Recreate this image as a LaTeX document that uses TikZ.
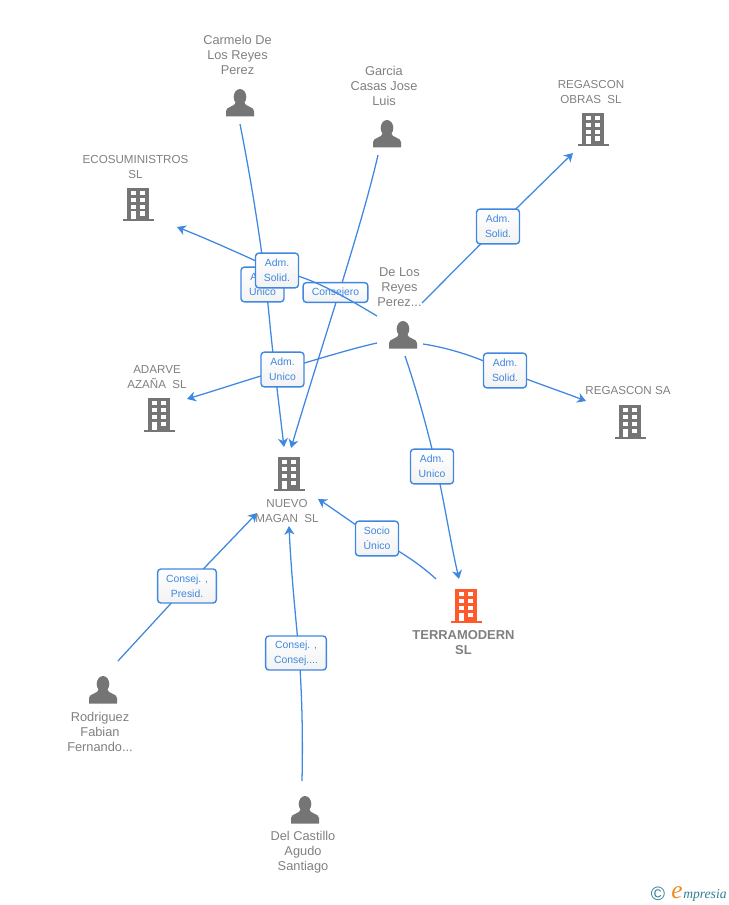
\documentclass[tikz,border=0pt]{standalone}
\usepackage{fontspec}
\setmainfont{Liberation Sans}
\newfontfamily\logoserif{Liberation Serif}
\usetikzlibrary{arrows.meta,backgrounds}
\definecolor{linkblue}{HTML}{3F87E0}
\definecolor{labelgrey}{HTML}{808080}
\definecolor{icongrey}{HTML}{757575}
\definecolor{iconorange}{HTML}{FF5A2B}
\definecolor{logoteal}{HTML}{2F7F96}
\definecolor{logoorange}{HTML}{F08A24}
\tikzset{
  x=0.75pt,y=-0.75pt,
  linkline/.style={draw=linkblue,line width=0.95pt},
  arrowlink/.style={linkline,-{Stealth[length=6.5pt,width=7.5pt,inset=2pt]}},
  tagbox/.style={draw=linkblue,line width=1.05pt,rounded corners=2.4pt,top color=white,bottom color=white!95!black,
    text=linkblue,inner sep=0pt,align=center,font=\fontsize{7.8}{11.25}\selectfont},
  whoname/.style={text=labelgrey,inner sep=0pt,align=center,font=\fontsize{9.6}{11.25}\selectfont},
  capsname/.style={whoname,font=\fontsize{8.7}{11.25}\selectfont},
  boldname/.style={whoname,font=\fontsize{9.7}{11.25}\selectfont\bfseries},
  anchorbox/.style={inner sep=0pt,minimum width=24pt,minimum height=24pt},
  pics/building/.style={code={
    \fill[#1] (-15.5,16.5) rectangle (15.5,14.5) ;
    \fill[#1] (-11,-17) rectangle (11,15);
    \foreach \yy in {-14,-7,0}{
      \fill[white] (-7.5,\yy) rectangle (-2.5,\yy+4);
      \fill[white] (2,\yy) rectangle (7,\yy+4);}
    \fill[white] (-7.5,6.5) rectangle (-2.5,14.5);
    \fill[white] (2,6.5) rectangle (7,11);
  }},
  pics/person/.style={code={
    \fill[icongrey] (0,-6) ellipse (6.3 and 8);
    \fill[icongrey] (-14,13.5) -- (-14,8) .. controls (-14,3.5) and (-5,4) .. (-4,-1) -- (4,-1)
      .. controls (5,4) and (14,3.5) .. (14,8) -- (14,13.5) -- cycle;
  }}
}
\begin{document}
\begin{tikzpicture}
\useasboundingbox (0,0) rectangle (728,905);
% icons
\node[anchorbox] (pCarmelo) at (240,103) {}; \pic at (pCarmelo) {person};
\node[anchorbox] (pGarcia) at (387,134) {}; \pic at (pGarcia) {person};
\node[anchorbox] (pReyes) at (403,335) {}; \pic at (pReyes) {person};
\node[anchorbox] (pRodriguez) at (103,690) {}; \pic at (pRodriguez) {person};
\node[anchorbox] (pCastillo) at (305,810) {}; \pic at (pCastillo) {person};
\node[anchorbox] (bEco) at (138,205) {}; \pic at (bEco) {building=icongrey};
\node[anchorbox] (bObras) at (593,130) {}; \pic at (bObras) {building=icongrey};
\node[anchorbox] (bAdarve) at (159,415) {}; \pic at (bAdarve) {building=icongrey};
\node[anchorbox] (bSa) at (630,422) {}; \pic at (bSa) {building=icongrey};
\node[anchorbox] (bNuevo) at (289,474) {}; \pic at (bNuevo) {building=icongrey};
\node[anchorbox] (bTerra) at (466,606) {}; \pic at (bTerra) {building=iconorange};
% names
\node[whoname] (nCarmelo) at (237.5,55) {Carmelo De\\Los Reyes\\Perez};
\node[whoname] (nGarcia) at (384,86) {Garcia\\Casas Jose\\Luis};
\node[capsname] (nObras) at (591,92) {REGASCON\\OBRAS\ \ SL};
\node[capsname] (nEco) at (135.5,167) {ECOSUMINISTROS\\SL};
\node[whoname] (nReyes) at (399.5,287) {De Los\\Reyes\\Perez...};
\node[capsname] (nAdarve) at (157,377) {ADARVE\\AZAÑA\ \ SL};
\node[capsname] (nSa) at (628,391) {REGASCON SA};
\node[capsname] (nNuevo) at (287,511) {NUEVO\\MAGAN\ \ SL};
\node[boldname] (nTerra) at (463.5,643) {TERRAMODERN\\SL};
\node[whoname] (nRodriguez) at (100,732) {Rodriguez\\Fabian\\Fernando...};
\node[whoname] (nCastillo) at (303,852) {Del Castillo\\Agudo\\Santiago};
% tags
\node[tagbox,minimum width=32.2pt,minimum height=26pt] (t1) at (262.5,284.5) {Adm.\\Unico};
\node[tagbox,minimum width=32.2pt,minimum height=26pt] (t3) at (277,270.5) {Adm.\\Solid.};
\node[tagbox,minimum width=32.2pt,minimum height=26pt] (t4) at (282.5,369.5) {Adm.\\Unico};
\node[tagbox,minimum width=32.2pt,minimum height=26pt] (t5) at (498,226.5) {Adm.\\Solid.};
\node[tagbox,minimum width=32.2pt,minimum height=26pt] (t6) at (505,370.5) {Adm.\\Solid.};
\node[tagbox,minimum width=32.2pt,minimum height=26pt] (t7) at (432,466.5) {Adm.\\Unico};
\node[tagbox,minimum width=32.2pt,minimum height=26pt] (t8) at (377,538.5) {Socio\\Único};
\node[tagbox,minimum width=44pt,minimum height=25.5pt] (t9) at (187,586) {Consej. ,\\Presid.};
\node[tagbox,minimum width=45.5pt,minimum height=25.5pt] (t10) at (296,653) {Consej. ,\\Consej....};
% free ends of the connectors
\coordinate (s1) at (240,124); \coordinate (e1) at (284,447);
\coordinate (s2) at (378,155); \coordinate (e2) at (291,448);
\coordinate (s3) at (377,316); \coordinate (e3) at (177,227);
\coordinate (s4) at (377,343); \coordinate (e4) at (187,399);
\coordinate (s5) at (422,303); \coordinate (e5) at (573,153);
\coordinate (s6) at (423,344); \coordinate (e6) at (586,401);
\coordinate (s7) at (405,356); \coordinate (e7) at (459,579);
\coordinate (s8) at (436,579); \coordinate (e8) at (318,499);
\coordinate (s9) at (118,661); \coordinate (e9) at (257,513);
\coordinate (s10) at (302,781); \coordinate (e10) at (289,526);
\coordinate (m1) at (270,325);
\coordinate (m7) at (436,466);
\coordinate (m10) at (299,653);
\begin{scope}[on background layer]
\draw[arrowlink] (s1) .. controls (255,200) and (265,270) .. (m1) .. controls (274,365) and (279,405) .. (e1);
\draw[arrowlink] (s2) .. controls (362,225) and (325,335) .. (e2);
% the Consejero tag lies over its own line and under the line that crosses it
\node[tagbox,minimum width=48.5pt,minimum height=14.8pt] (t2) at (335.5,292.5) {Consejero};
\draw[arrowlink] (s3) .. controls (345,297) and (312,277) .. (t3.center) .. controls (245,256) and (210,240) .. (e3);
\draw[arrowlink] (s4) .. controls (350,349) and (315,360) .. (t4.center) .. controls (250,379) and (220,389) .. (e4);
\draw[arrowlink] (s5) -- (t5.center) -- (e5);
\draw[arrowlink] (s6) .. controls (450,348) and (480,358) .. (t6.center) .. controls (530,381) and (560,391) .. (e6);
\draw[arrowlink] (s7) .. controls (420,400) and (430,440) .. (m7) .. controls (444,500) and (450,540) .. (e7);
\draw[arrowlink] (s8) .. controls (424,568) and (410,557) .. (t8.center) .. controls (355,525) and (335,510) .. (e8);
\draw[arrowlink] (s9) -- (t9.center) -- (e9);
\draw[arrowlink] (s10) .. controls (303,735) and (302,695) .. (m10) .. controls (295,610) and (291,570) .. (e10);
\end{scope}
% logo
\node[text=logoteal,inner sep=0pt,font=\fontsize{14.5}{14.5}\selectfont] (logoC) at (658,894) {©};
\node[text=logoorange,inner sep=0pt,font=\logoserif\itshape\fontsize{19}{19}\selectfont] (logoE) at (677,893) {e};
\node[text=logoteal,inner sep=0pt,anchor=west,font=\logoserif\itshape\fontsize{10.2}{10.2}\selectfont] (logoM) at (683,895) {mpresia};
\end{tikzpicture}
\end{document}
